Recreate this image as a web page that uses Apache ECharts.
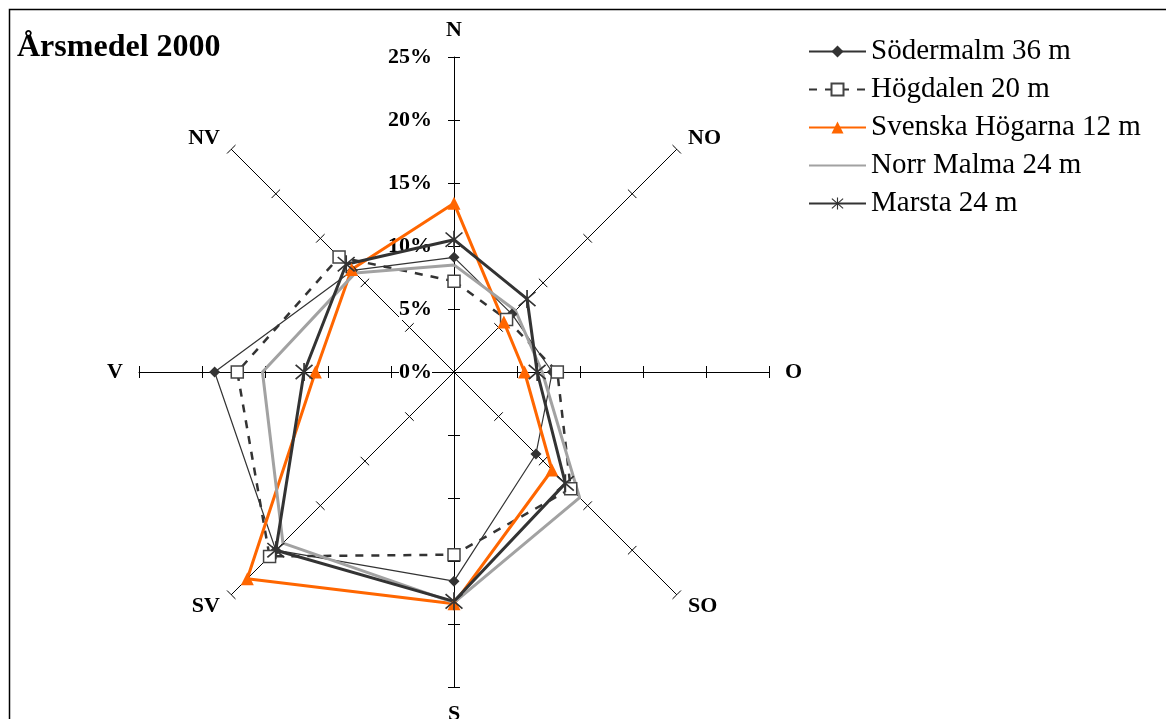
<!DOCTYPE html>
<html>
<head>
<meta charset="utf-8">
<script src="https://cdn.jsdelivr.net/npm/echarts@6/dist/echarts.min.js"></script>
<style>
html,body{margin:0;padding:0;background:#fff;}
#chart{width:1166px;height:719px;}
</style>
</head>
<body>
<div id="chart"></div>
<script>
// Compass directions, clockwise from north
var directions = ['N', 'NO', 'O', 'SO', 'S', 'SV', 'V', 'NV'];
// Frequency (%) per direction, same order as directions
var sodermalm  = [9.1, 6.5, 7.8, 9.2, 16.6, 20.0, 19.0, 11.4];
var hogdalen   = [7.2, 5.9, 8.2, 13.1, 14.5, 20.7, 17.2, 12.9];
var svenska    = [13.4, 5.6, 5.6, 11.0, 18.4, 23.2, 11.0, 11.5];
var norrMalma  = [8.5, 6.9, 7.0, 14.1, 18.3, 19.2, 15.2, 11.1];
var marsta     = [10.5, 8.2, 6.6, 12.5, 18.2, 20.0, 11.9, 12.1];
var seriesNames = ['Södermalm 36 m', 'Högdalen 20 m', 'Svenska Högarna 12 m', 'Norr Malma 24 m', 'Marsta 24 m'];
var axisMax = 25;
var titleText = 'Årsmedel 2000';

// ECharts radar runs counter-clockwise: reorder compass data for it
var order = [0, 7, 6, 5, 4, 3, 2, 1];
function reorder(arr) { return order.map(function (i) { return arr[i]; }); }

var SERIF = '"Liberation Serif", "Times New Roman", serif';
var STAR = 'path://M9.1,0L10.9,0L10.9,20L9.1,20Z M0.402,2.673L1.598,1.327L19.598,17.327L18.402,18.673Z M18.402,1.327L19.598,2.673L1.598,18.673L0.402,17.327Z';

var styles = [
  { symbol: 'diamond', symbolSize: 11, lineStyle: { color: '#333', width: 1.2 }, itemStyle: { color: '#333' } },
  { symbol: 'rect', symbolSize: 12, lineStyle: { color: '#333', width: 2.5, type: [8, 8] }, itemStyle: { color: '#fff', borderColor: '#444', borderWidth: 1.5 } },
  { symbol: 'triangle', symbolSize: 13, lineStyle: { color: '#FF6600', width: 3 }, itemStyle: { color: '#FF6600' } },
  { symbol: 'none', symbolSize: 0, lineStyle: { color: '#a2a2a2', width: 3 }, itemStyle: { color: '#a2a2a2', opacity: 0 } },
  { symbol: STAR, symbolSize: 18, lineStyle: { color: '#333', width: 3 }, itemStyle: { color: '#333' } }
];
var values = [sodermalm, hogdalen, svenska, norrMalma, marsta];

var ordDirs = reorder(directions);
var indicators = ordDirs.map(function (d, i) {
  var ind = { name: d, min: 0, max: axisMax };
  if (d === 'N') {
    ind.axisLabel = {
      show: true, formatter: '{value}%', color: '#000', fontFamily: SERIF,
      fontWeight: 'bold', fontSize: 22, margin: 22, backgroundColor: '#fff'
    };
  }
  return ind;
});
var indicatorsPlain = ordDirs.map(function (d) { return { name: d, min: 0, max: axisMax }; });

var radarData = values.map(function (v, i) {
  var s = styles[i];
  return {
    name: seriesNames[i],
    value: reorder(v),
    symbol: s.symbol,
    symbolSize: s.symbolSize,
    lineStyle: s.lineStyle,
    itemStyle: s.symbol === 'none' ? { color: s.lineStyle.color } : s.itemStyle
  };
});

// Empty line series only to give the legend line+marker icons
var legendSeries = values.map(function (v, i) {
  var s = styles[i];
  return {
    type: 'line', name: seriesNames[i], data: [],
    xAxisIndex: 0, yAxisIndex: 0,
    symbol: s.symbol === 'none' ? 'circle' : s.symbol,
    lineStyle: s.lineStyle,
    itemStyle: s.itemStyle
  };
});

var chart = echarts.init(document.getElementById('chart'), null, { renderer: 'canvas' });
chart.setOption({
  animation: false,
  backgroundColor: '#fff',
  title: {
    text: titleText, left: 17, top: 32, padding: 0,
    textStyle: { fontFamily: SERIF, fontWeight: 'bold', fontSize: 32, color: '#000' }
  },
  legend: {
    orient: 'vertical', left: 808, top: 37, padding: 0, itemGap: 9,
    itemWidth: 57, itemHeight: 15,
    data: seriesNames,
    textStyle: { fontFamily: SERIF, fontSize: 29, color: '#000', lineHeight: 29 }
  },
  grid: { left: 0, top: 0, width: 10, height: 10, show: false },
  xAxis: { type: 'category', show: false, data: [] },
  yAxis: { type: 'value', show: false },
  graphic: [{
    type: 'rect', silent: true, z: -1,
    shape: { x: 9.5, y: 9.5, width: 1300, height: 900 },
    style: { fill: 'none', stroke: '#000', lineWidth: 1.5 }
  }],
  radar: [{
    center: [454, 372], radius: 315, startAngle: 90, shape: 'polygon',
    splitNumber: 5,
    indicator: indicators,
    axisName: { color: '#000', fontFamily: SERIF, fontWeight: 'bold', fontSize: 22 },
    nameGap: 16,
    axisLine: { show: true, lineStyle: { color: '#000', width: 1 } },
    axisTick: { show: true, length: 6, lineStyle: { color: '#000', width: 1 } },
    axisLabel: { show: false },
    splitLine: { show: false },
    splitArea: { show: false }
  }, {
    center: [454, 372], radius: 315, startAngle: 90, shape: 'polygon',
    splitNumber: 5,
    indicator: indicatorsPlain,
    axisName: { show: false },
    axisLine: { show: true, lineStyle: { color: '#000', width: 1, opacity: 0 } },
    axisTick: { show: true, length: -6, lineStyle: { color: '#000', width: 1 } },
    axisLabel: { show: false },
    splitLine: { show: false },
    splitArea: { show: false }
  }],
  series: [{
    type: 'radar', radarIndex: 0, data: radarData, emphasis: { disabled: true }
  }].concat(legendSeries)
});
</script>
</body>
</html>
